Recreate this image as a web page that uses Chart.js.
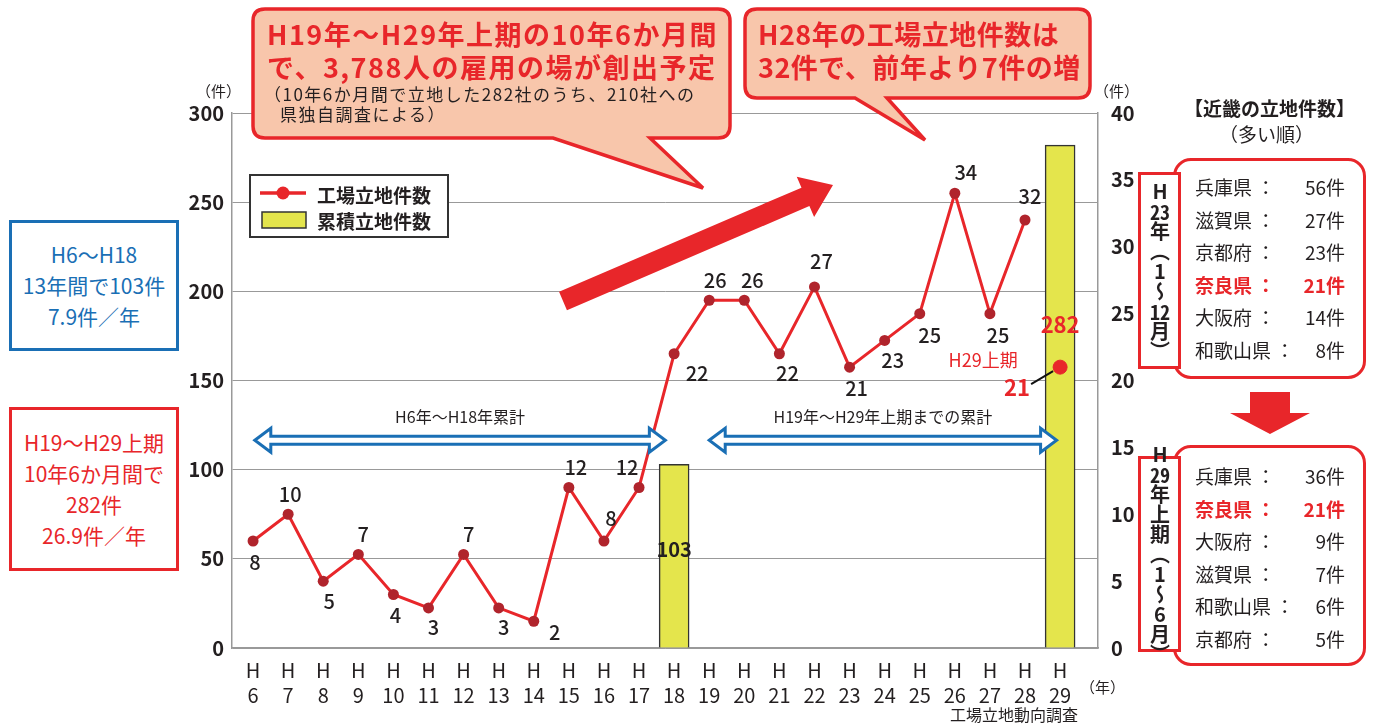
<!DOCTYPE html>
<html lang="ja">
<head>
<meta charset="UTF-8">
<title>工場立地件数の推移</title>
<script src="https://cdn.jsdelivr.net/npm/chart.js"></script>
<style>
  body { margin: 0; width: 1375px; height: 727px; background: #fff; position: relative; overflow: hidden;
         font-family: "Noto Sans CJK JP", "Noto Sans", sans-serif; color: #231f20; }
  #chart { position: absolute; left: 0; top: 0; }
  #deco { position: absolute; left: 0; top: 0; z-index: 2; }
  .abs { position: absolute; z-index: 3; white-space: nowrap; }
  .callout { color: #e8262a; font-weight: bold; font-size: 27px; line-height: 33px; letter-spacing: 1.5px; }
  .note { font-size: 17px; line-height: 20px; color: #231f20; font-weight: normal; letter-spacing: 1.5px; }
  .sidebox { border: 3px solid; background: #fff; text-align: center; font-size: 21px; line-height: 31px;
             display: flex; flex-direction: column; justify-content: center; box-sizing: border-box; }
  .legend { left: 249px; top: 174px; width: 200px; height: 64px; border: 2px solid #333; background: #fff;
            box-sizing: border-box; font-size: 19px; font-weight: bold; }
  .legend div { position: absolute; left: 66px; }
  .legend svg { position: absolute; left: 0; top: 0; }
  .panel { border: 3px solid #e8262a; border-radius: 18px; background: #fff; box-sizing: border-box; }
  .rows { font-size: 19px; line-height: 32.5px; }
  .row { display: flex; justify-content: space-between; width: 150px; }
  .row.hl { color: #e8262a; font-weight: bold; }
  .vlabel { border: 3px solid #e8262a; background: #fff; box-sizing: border-box; writing-mode: vertical-rl;
            font-size: 20px; font-weight: bold; display: flex; align-items: center; justify-content: center; line-height: 1; }
  .tcy { text-combine-upright: all; }
  .up { text-orientation: upright; }
</style>
</head>
<body>
<canvas id="chart" width="1375" height="727"></canvas>
<svg id="deco" width="1375" height="727"></svg>

<!-- callouts -->
<div class="abs callout" style="left:267px; top:17px;">H19年〜H29年上期の10年6か月間<br>で、3,788人の雇用の場が創出予定</div>
<div class="abs note" style="left:264px; top:84px;">（10年6か月間で立地した282社のうち、210社への<br>&nbsp;&nbsp;&nbsp;県独自調査による）</div>
<div class="abs callout" style="left:758px; top:17px; letter-spacing:0.5px;">H28年の工場立地件数は<br>32件で、前年より7件の増</div>

<!-- legend -->
<div class="abs legend">
  <svg width="70" height="60">
    <line x1="9" y1="17" x2="55" y2="17" stroke="#e8262a" stroke-width="3.5"/>
    <circle cx="32" cy="17" r="6.5" fill="#e8262a"/>
    <rect x="11" y="36" width="44" height="16" fill="#e4e54c" stroke="#333" stroke-width="1.5"/>
  </svg>
  <div style="top:5px;">工場立地件数</div>
  <div style="top:31px;">累積立地件数</div>
</div>

<!-- left summary boxes -->
<div class="abs sidebox" style="left:9px; top:220px; width:170px; height:131px; border-color:#1a6fb5; color:#1a6fb5;">
  <div>H6〜H18</div><div>13年間で103件</div><div>7.9件／年</div>
</div>
<div class="abs sidebox" style="left:9px; top:407px; width:170px; height:164px; border-color:#e8262a; color:#e8262a;">
  <div>H19〜H29上期</div><div>10年6か月間で</div><div>282件</div><div>26.9件／年</div>
</div>

<!-- axis notes -->
<div class="abs" style="left:196px; top:80px; font-size:15px;">（件）</div>
<div class="abs" style="left:1094px; top:80px; font-size:15px;">（件）</div>
<div class="abs" style="left:1080px; top:676px; font-size:15px;">（年）</div>
<div class="abs" style="left:950px; top:702px; font-size:16px;">工場立地動向調査</div>

<!-- right panel -->
<div class="abs" style="left:1184px; top:94px; font-size:19px; font-weight:bold;">【近畿の立地件数】</div>
<div class="abs" style="left:1219px; top:120px; font-size:19px;">（多い順）</div>

<div class="abs panel" style="left:1173px; top:158px; width:193px; height:221px;"></div>
<div class="abs rows" id="rows1" style="left:1195px; top:171px;"></div>
<div class="abs vlabel" style="left:1138px; top:172px; width:43px; height:197px;">
  <span class="up">H</span><span class="tcy">23</span>年（<span class="up">1</span>〜<span class="tcy">12</span>月）
</div>

<div class="abs panel" style="left:1173px; top:445px; width:193px; height:221px;"></div>
<div class="abs rows" id="rows2" style="left:1195px; top:460px;"></div>
<div class="abs vlabel" style="left:1138px; top:456px; width:43px; height:196px;">
  <span class="up">H</span><span class="tcy">29</span>年上期（<span class="up">1</span>〜<span class="up">6</span>月）
</div>

<script>
// ---- data ----
const categories = ['H6','H7','H8','H9','H10','H11','H12','H13','H14','H15','H16','H17',
                    'H18','H19','H20','H21','H22','H23','H24','H25','H26','H27','H28','H29'];
// 工場立地件数 (H6〜H28, 年間)
const annualSites = [8, 10, 5, 7, 4, 3, 7, 3, 2, 12, 8, 12, 22, 26, 26, 22, 27, 21, 23, 25, 34, 25, 32];
// H29 上期のみ
const h29FirstHalf = 21;
// 累積立地件数
const cumulativeCats = ['H18', 'H29'];
const cumulativeValues = [103, 282];

const leftTicks = { min: 0, max: 300, step: 50 };
const rightTicks = { min: 0, max: 40, step: 5 };

// 近畿の立地件数
const kinkiH23Names = ['兵庫県', '滋賀県', '京都府', '奈良県', '大阪府', '和歌山県'];
const kinkiH23Values = [56, 27, 23, 21, 14, 8];
const kinkiH29Names = ['兵庫県', '奈良県', '大阪府', '滋賀県', '和歌山県', '京都府'];
const kinkiH29Values = [36, 21, 9, 7, 6, 5];

const RED = '#e8262a', BLUE = '#1a6fb5', DARK = '#231f20';

function fillRows(id, names, values) {
  const el = document.getElementById(id);
  names.forEach((n, i) => {
    const r = document.createElement('div');
    r.className = 'row' + (n === '奈良県' ? ' hl' : '');
    r.innerHTML = '<span>' + n + ' ：</span><span>' + values[i] + '件</span>';
    el.appendChild(r);
  });
}
fillRows('rows1', kinkiH23Names, kinkiH23Values);
fillRows('rows2', kinkiH29Names, kinkiH29Values);

// ---- decorations (callout shapes, big arrows) ----
(function () {
  const svg = document.getElementById('deco');
  const c1 = 'M265,9 H718 Q730,9 730,21 V126 Q730,138 718,138 H650 L703,188 L553,138 H265 Q253,138 253,126 V21 Q253,9 265,9 Z';
  const c2 = 'M757,9 H1078 Q1090,9 1090,21 V86 Q1090,98 1078,98 H887 L925,140 L855,98 H757 Q745,98 745,86 V21 Q745,9 757,9 Z';
  // big trend arrow
  const tx = 563, ty = 301, hx = 833, hy = 185;
  const len = Math.hypot(hx - tx, hy - ty), ux = (hx - tx) / len, uy = (hy - ty) / len;
  const nx = -uy, ny = ux, sw = 10, hw = 22, hl = 30;
  const bx = hx - ux * hl, by = hy - uy * hl;
  const pts = [
    [tx + nx * sw, ty + ny * sw], [bx + nx * sw, by + ny * sw], [bx + nx * hw, by + ny * hw], [hx, hy],
    [bx - nx * hw, by - ny * hw], [bx - nx * sw, by - ny * sw], [tx - nx * sw, ty - ny * sw]
  ].map(p => p.join(',')).join(' ');
  svg.innerHTML =
    '<path d="' + c1 + '" fill="#f8c6ab" stroke="' + RED + '" stroke-width="3.5"/>' +
    '<path d="' + c2 + '" fill="#f8c6ab" stroke="' + RED + '" stroke-width="3.5"/>' +
    '<polygon points="' + pts + '" fill="' + RED + '"/>' +
    '<polygon points="1250,392 1290,392 1290,413 1310,413 1270,434 1230,413 1250,413" fill="' + RED + '"/>';
})();

// ---- chart ----
const lineData = annualSites.map((v, i) => ({ x: i, y: v }));
const h29Point = [{ x: categories.indexOf('H29'), y: h29FirstHalf }];
const barData = cumulativeCats.map((c, i) => ({ x: categories.indexOf(c), y: cumulativeValues[i] }));

const labelOffsets = [[2,21],[2,-20],[6,20],[5,-20],[2,21],[5,20],[5,-20],[5,20],[21,11],[7,-20],[7,-23],[-12,-20],
                      [23,20],[6,-20],[8,-20],[8,20],[7,-25],[7,21],[8,20],[10,22],[11,-21],[8,22],[5,-24]];

function hollowArrow(ctx, x1, x2, y) {
  const sw = 4, hw = 12, hl = 16;
  ctx.beginPath();
  ctx.moveTo(x1, y);
  ctx.lineTo(x1 + hl, y - hw); ctx.lineTo(x1 + hl, y - sw);
  ctx.lineTo(x2 - hl, y - sw); ctx.lineTo(x2 - hl, y - hw);
  ctx.lineTo(x2, y);
  ctx.lineTo(x2 - hl, y + hw); ctx.lineTo(x2 - hl, y + sw);
  ctx.lineTo(x1 + hl, y + sw); ctx.lineTo(x1 + hl, y + hw);
  ctx.closePath();
  ctx.fillStyle = '#fff'; ctx.fill();
  ctx.lineWidth = 3; ctx.strokeStyle = BLUE; ctx.lineJoin = 'miter'; ctx.stroke();
}

const annotations = {
  id: 'annotations',
  afterDatasetsDraw(chart) {
    const ctx = chart.ctx, xs = chart.scales.x, yl = chart.scales.y, yr = chart.scales.y2;
    ctx.save();
    ctx.textAlign = 'center'; ctx.textBaseline = 'middle';
    ctx.font = '500 20px "Noto Sans CJK JP"'; ctx.fillStyle = DARK;
    annualSites.forEach((v, i) => {
      const o = labelOffsets[i];
      ctx.fillText(String(v), xs.getPixelForValue(i) + o[0], yr.getPixelForValue(v) + o[1]);
    });
    // cumulative labels
    ctx.font = 'bold 20px "Noto Sans CJK JP"';
    ctx.fillText(String(cumulativeValues[0]), xs.getPixelForValue(barData[0].x), yl.getPixelForValue(cumulativeValues[0]) + 85);
    ctx.fillStyle = RED; ctx.font = 'bold 22px "Noto Sans CJK JP"';
    const px = xs.getPixelForValue(h29Point[0].x), py = yr.getPixelForValue(h29FirstHalf);
    ctx.fillText(String(cumulativeValues[1]), px, py - 42);
    ctx.fillText(String(h29FirstHalf), px - 43, py + 21);
    ctx.font = '18px "Noto Sans CJK JP"';
    ctx.fillText('H29上期', px - 77, py - 7);
    ctx.strokeStyle = '#111'; ctx.lineWidth = 2;
    ctx.beginPath(); ctx.moveTo(px - 29, py + 17); ctx.lineTo(px - 7, py + 4); ctx.stroke();
    // cumulative span arrows
    const ay = yl.getPixelForValue(116.5);
    hollowArrow(ctx, xs.getPixelForValue(0.05), xs.getPixelForValue(11.75), ay);
    hollowArrow(ctx, xs.getPixelForValue(13.0), xs.getPixelForValue(22.9), ay);
    ctx.fillStyle = DARK; ctx.font = '16px "Noto Sans CJK JP"';
    ctx.fillText('H6年〜H18年累計', (xs.getPixelForValue(0.05) + xs.getPixelForValue(11.75)) / 2, ay - 23);
    ctx.fillText('H19年〜H29年上期までの累計', (xs.getPixelForValue(13.0) + xs.getPixelForValue(22.9)) / 2, ay - 23);
    ctx.restore();
  }
};

new Chart(document.getElementById('chart'), {
  data: {
    datasets: [
      {
        type: 'line', data: lineData, yAxisID: 'y2', order: 0,
        borderColor: RED, borderWidth: 3, pointRadius: 5.5, pointBackgroundColor: '#b0242c',
        pointBorderColor: '#b0242c', pointBorderWidth: 0
      },
      {
        type: 'line', data: h29Point, yAxisID: 'y2', order: 0, showLine: false,
        pointRadius: 7, pointBackgroundColor: RED, pointBorderColor: RED
      },
      {
        type: 'bar', data: barData, yAxisID: 'y', order: 1, barThickness: 30,
        backgroundColor: '#e4e54c', borderColor: '#333', borderWidth: 1.5
      }
    ]
  },
  options: {
    responsive: false, animation: false,
    layout: { padding: { left: 182, right: 227, top: 113, bottom: 19 } },
    plugins: { legend: { display: false }, tooltip: { enabled: false } },
    scales: {
      x: {
        type: 'linear', min: -0.6, max: 24.08, bounds: 'data', offset: false,
        grid: { display: false, offset: false }, border: { color: '#999', width: 1.5 },
        afterBuildTicks: s => { s.ticks = categories.map((c, i) => ({ value: i })); },
        afterDataLimits: s => { s.min = -0.6; s.max = 24.08; },
        afterFit: s => { s.height = 60; },
        ticks: {
          autoSkip: false, maxRotation: 0, padding: 2, color: DARK,
          font: { size: 20, family: '"Noto Sans CJK JP"', lineHeight: 1.25 },
          callback: v => ['H', categories[v].slice(1)]
        }
      },
      y: {
        position: 'left', min: leftTicks.min, max: leftTicks.max,
        grid: { color: '#999', lineWidth: 1, drawTicks: false }, border: { color: '#999', width: 1.5 },
        afterFit: s => { s.width = 50; },
        ticks: { stepSize: leftTicks.step, padding: 8, color: DARK, font: { size: 20, weight: 'bold', family: '"Noto Sans CJK JP"' } }
      },
      y2: {
        position: 'right', min: rightTicks.min, max: rightTicks.max,
        grid: { display: false }, border: { color: '#999', width: 1.5 },
        afterFit: s => { s.width = 50; },
        ticks: { stepSize: rightTicks.step, padding: 5, color: DARK, font: { size: 20, weight: 'bold', family: '"Noto Sans CJK JP"' } }
      }
    }
  },
  plugins: [annotations]
});
</script>
</body>
</html>
